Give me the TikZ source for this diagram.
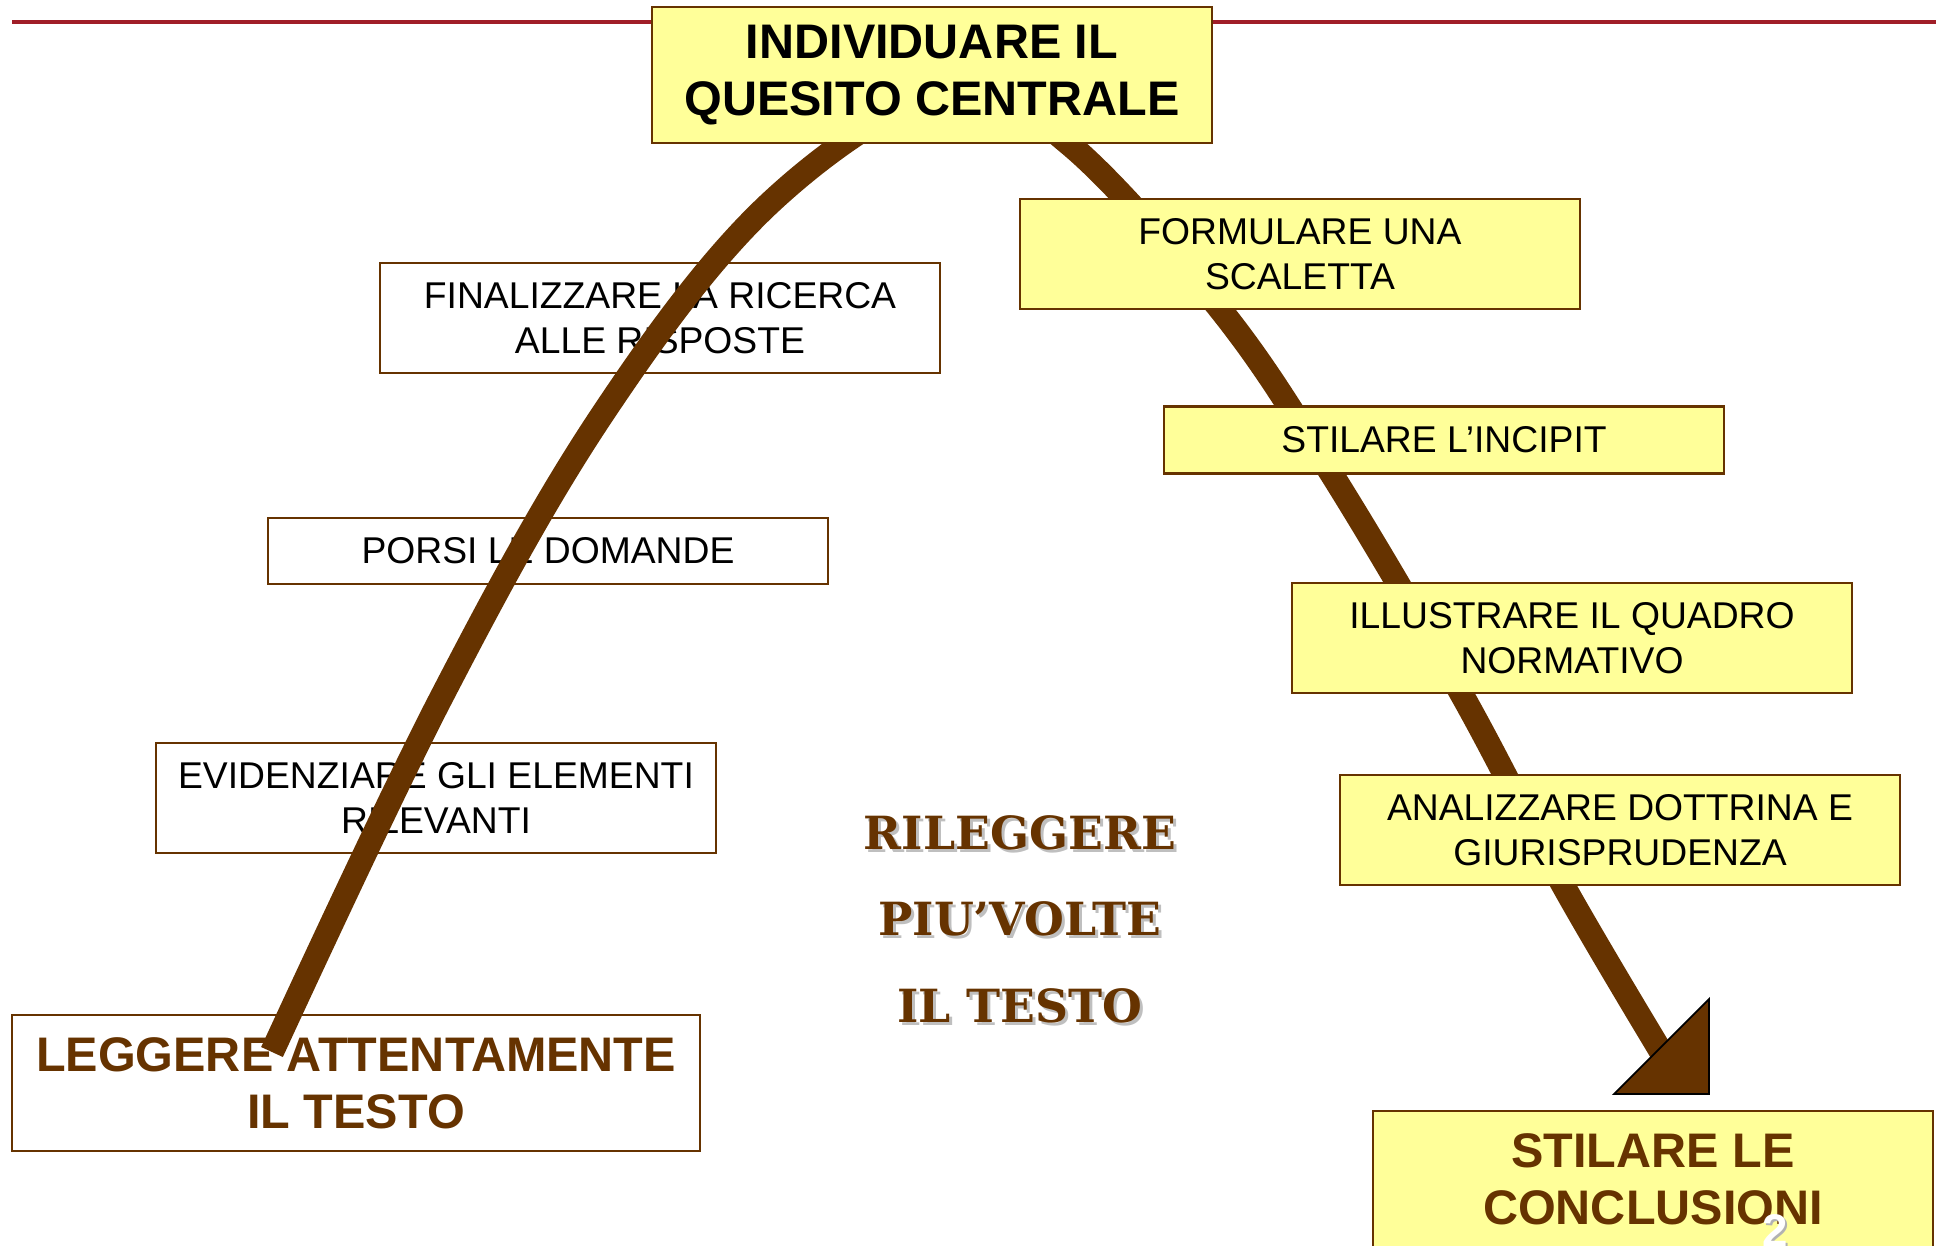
\documentclass[tikz,border=0pt]{standalone}
\usepackage{fontspec}
\setmainfont{Liberation Sans}
\newfontfamily\rilfont{DejaVu Serif}
\usepackage{tikz}

\definecolor{brownarrow}{RGB}{102,51,0}
\definecolor{boxyellow}{RGB}{255,255,153}
\definecolor{topred}{RGB}{160,30,40}

\begin{document}
\begin{tikzpicture}[x=0.01cm, y=-0.01cm,
  stepbox/.style={draw=brownarrow, line width=0.6pt, fill=white, inner sep=0pt,
    minimum width=5.6cm, minimum height=1.1cm, align=center,
    font=\fontsize{10.6}{12.7}\selectfont},
  yellowbox/.style={stepbox, fill=boxyellow},
  bigbox/.style={stepbox, minimum height=1.36cm,
    font=\fontsize{13.8}{16.2}\selectfont\bfseries},
  shaft/.style={brownarrow, line width=6.8pt},
  rilshadow/.style={anchor=base, text=gray!50, font=\rilfont\fontsize{13}{15}\selectfont\bfseries},
  riltext/.style={anchor=base, text=brownarrow, font=\rilfont\fontsize{13}{15}\selectfont\bfseries}]
  \useasboundingbox (0,0) rectangle (1936,1245);
  \draw[topred, line width=0.9pt] (12,22) -- (1936,22);

  % left side
  \node[stepbox] (finalizzare) at (660,318) {FINALIZZARE LA RICERCA\\ALLE RISPOSTE};
  \node[stepbox, minimum height=0.66cm] (porsi) at (548,551) {PORSI LE DOMANDE};
  \node[stepbox] (evidenziare) at (436,798) {EVIDENZIARE GLI ELEMENTI\\RILEVANTI};
  \node[bigbox, minimum width=6.88cm, text=brownarrow] (leggere) at (356,1083) {LEGGERE ATTENTAMENTE\\IL TESTO};

  % the arrow
  \coordinate (start) at (272,1052);
  \coordinate (apex) at (953,88);
  \coordinate (tipbase) at (1663,1055);
  \draw[shaft] plot[smooth, tension=0.6] coordinates {(start) (440,700) (600,418)
    (770,203) (apex) (1068,143) (1220,309) (1331,473) (1461,693) (1563,885) (tipbase)};

  % right side
  \node[bigbox, fill=boxyellow, minimum width=5.6cm] (quesito) at (932,75) {INDIVIDUARE IL\\QUESITO CENTRALE};
  \node[yellowbox] (scaletta) at (1300,254) {FORMULARE UNA\\SCALETTA};
  \node[yellowbox, minimum height=0.67cm] (incipit) at (1444,440) {STILARE L’INCIPIT};
  \node[yellowbox] (quadro) at (1572,638) {ILLUSTRARE IL QUADRO\\NORMATIVO};
  \node[yellowbox] (dottrina) at (1620,830) {ANALIZZARE DOTTRINA E\\GIURISPRUDENZA};
  \filldraw[fill=brownarrow, draw=black, line width=0.5pt] (1614,1094) -- (1709,1094) -- (1709,999) -- cycle;
  \node[bigbox, fill=boxyellow, text=brownarrow] (conclusioni) at (1653,1179) {STILARE LE\\CONCLUSIONI};

  % rileggere
  \foreach \txt/\y [count=\i] in {RILEGGERE/849, PIU’VOLTE/935, IL TESTO/1022} {
    \node[rilshadow] at (1023,\y+3) {\txt};
    \node[riltext] (ril\i) at (1020,\y) {\txt};
  }

  \node[anchor=base, text=gray!60, font=\fontsize{13}{15}\selectfont\bfseries] at (1777,1248) {2};
  \node[anchor=base, text=white, font=\fontsize{13}{15}\selectfont\bfseries] (pagenum) at (1775,1246) {2};
\end{tikzpicture}
\end{document}
